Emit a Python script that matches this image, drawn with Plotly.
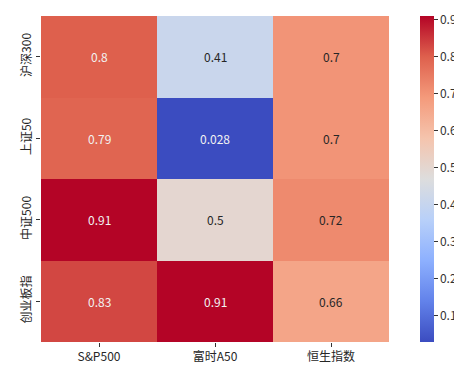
import plotly.graph_objects as go

rows = ["沪深300", "上证50", "中证500", "创业板指"]
cols = ["S&P500", "富时A50", "恒生指数"]
values = [
    [0.8, 0.41, 0.7],
    [0.79, 0.028, 0.7],
    [0.91, 0.5, 0.72],
    [0.83, 0.91, 0.66],
]
cbar_ticks = [0.1, 0.2, 0.3, 0.4, 0.5, 0.6, 0.7, 0.8, 0.9]

coolwarm = [
    [0.0, "rgb(59,76,192)"],
    [0.125, "rgb(98,130,234)"],
    [0.25, "rgb(141,176,254)"],
    [0.375, "rgb(184,208,249)"],
    [0.5, "rgb(221,221,221)"],
    [0.625, "rgb(245,196,173)"],
    [0.75, "rgb(244,154,123)"],
    [0.875, "rgb(222,96,77)"],
    [1.0, "rgb(180,4,38)"],
]

zmin = min(min(r) for r in values)
zmax = max(max(r) for r in values)

fig = go.Figure(go.Heatmap(
    z=values, x=cols, y=rows, colorscale=coolwarm, zmin=zmin, zmax=zmax,
    xgap=0, ygap=0,
    colorbar=dict(
        thickness=14, len=1.0, lenmode="fraction", y=0.5, yanchor="middle",
        x=1.06, xanchor="left", outlinewidth=0, ypad=0,
        tickvals=cbar_ticks, ticktext=[str(t) for t in cbar_ticks],
        ticks="outside", ticklen=4, tickcolor="#333",
        tickfont=dict(size=12, color="#333", family="Noto Sans CJK SC"),
    ),
    hoverinfo="skip",
))

def fmt(v):
    return f"{v:.2g}"

anns = []
for i, r in enumerate(rows):
    for j, c in enumerate(cols):
        v = values[i][j]
        frac = (v - zmin) / (zmax - zmin)
        light = 0.3 < frac < 0.8
        anns.append(dict(
            x=c, y=r, text=fmt(v), showarrow=False,
            font=dict(size=12, family="Noto Sans CJK SC",
                      color="#262626" if light else "#f2f2f2"),
        ))

fig.update_layout(
    width=462, height=379,
    margin=dict(l=33, r=81, t=8, b=45, autoexpand=False),
    paper_bgcolor="white", plot_bgcolor="white",
    annotations=anns,
    font=dict(family="Noto Sans CJK SC", size=12, color="#262626"),
    xaxis=dict(ticks="outside", ticklen=4, tickcolor="#333", showgrid=False,
               zeroline=False, showline=False, tickfont=dict(size=12), automargin=False),
    yaxis=dict(autorange="reversed", ticks="outside", ticklen=4, tickcolor="#333",
               showgrid=False, zeroline=False, showline=False, tickangle=-90,
               tickfont=dict(size=12), automargin=False),
)

fig.write_html("out.html")
